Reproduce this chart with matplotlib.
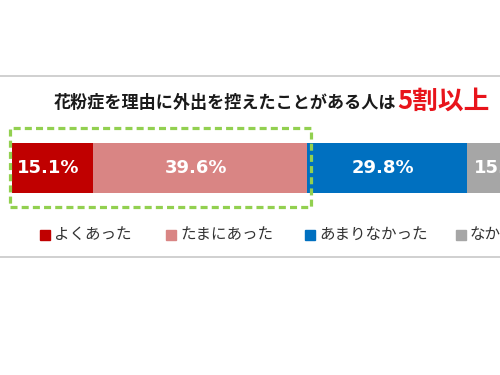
import matplotlib
matplotlib.use("Agg")
import matplotlib.pyplot as plt
from matplotlib.patches import Rectangle
from matplotlib.lines import Line2D
from matplotlib import transforms

categories = ["よくあった", "たまにあった", "あまりなかった", "なかった"]
values = [15.1, 39.6, 29.8, 15.5]
colors = ["#C00000", "#D98584", "#0070C0", "#A6A6A6"]
title_main = "花粉症を理由に外出を控えたことがある人は"
title_emph = "5割以上"

JP = ["Noto Sans CJK JP", "DejaVu Sans"]
W, H = 500, 375
fig = plt.figure(figsize=(W / 100, H / 100), dpi=100)
fig.patch.set_facecolor("white")

def fx(x):
    return x / W

def fy(y):
    return 1 - y / H

# axes: data 0..100 spans x 12..551 px (extends beyond the right edge)
ax = fig.add_axes([fx(12), fy(193), 539 / W, 50 / H])
ax.set_xlim(0, 100)
ax.set_ylim(-0.5, 0.5)
ax.axis("off")

left = 0
for v, c in zip(values, colors):
    ax.barh(0, v, left=left, height=1, color=c, edgecolor="none")
    ax.text(left + v / 2 - 0.8, 0, f"{v:.1f}%", ha="center", va="center",
            color="white", fontsize=13, fontweight="bold", family="DejaVu Sans")
    left += v

# green dashed box around the first two segments
bt = transforms.blended_transform_factory(ax.transData, fig.transFigure)
box_end = values[0] + values[1]
rect = Rectangle((-0.4, fy(207)), box_end + 1.1, fy(128) - fy(207),
                 transform=bt, fill=False, edgecolor="#92D050", linewidth=2.3,
                 linestyle=(0, (2.2, 1.3)), clip_on=False)
fig.add_artist(rect)

# separator lines
for yy in (76, 257):
    fig.add_artist(Line2D([0, 1], [fy(yy), fy(yy)], color="#C8C8C8", lw=1.2))

# title
fig.text(fx(396), fy(108), title_main, ha="right", va="baseline",
         fontsize=12.3, fontweight="bold", family=JP, color="#1a1a1a")
fig.text(fx(397), fy(109), title_emph, ha="left", va="baseline",
         fontsize=18.5, fontweight="bold", family=JP, color="#E8141B")

# legend (manual)
sq_x = [40, 166, 305, 456]
for cat, c, sx in zip(categories, colors, sq_x):
    fig.add_artist(Rectangle((fx(sx), fy(240)), 10 / W, 10 / H,
                             transform=fig.transFigure, color=c))
    fig.text(fx(sx + 14), fy(234), cat, ha="left", va="center",
             fontsize=11.2, family=JP, color="#333333")

fig.savefig("out.png", dpi=100, facecolor="white")
